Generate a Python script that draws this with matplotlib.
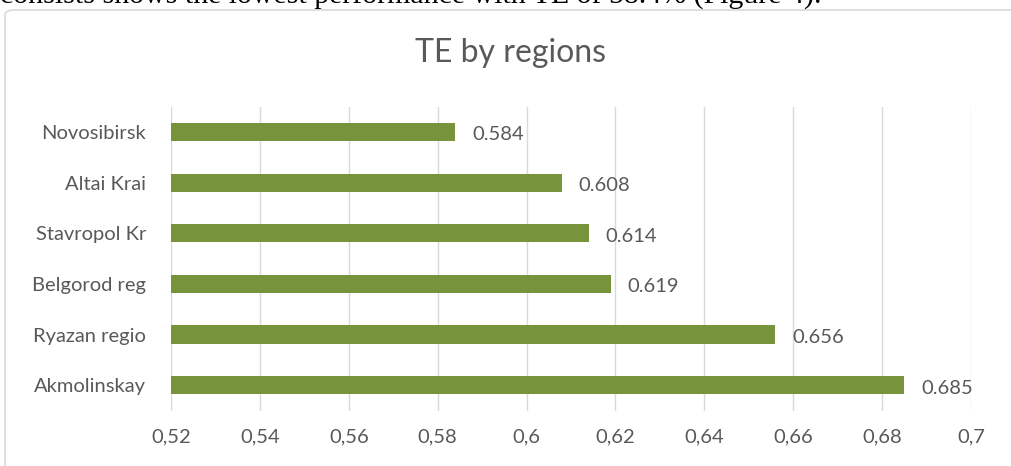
import matplotlib.pyplot as plt
from matplotlib.patches import FancyBboxPatch
from matplotlib.ticker import FuncFormatter

regions = ["Akmolinskay", "Ryazan regio", "Belgorod reg", "Stavropol Kr", "Altai Krai", "Novosibirsk"]
te = [0.685, 0.656, 0.619, 0.614, 0.608, 0.584]
ticks = [0.52, 0.54, 0.56, 0.58, 0.6, 0.62, 0.64, 0.66, 0.68, 0.7]

plt.rcParams['font.family'] = ['Lato', 'DejaVu Sans']
gray = "#595959"

fig = plt.figure(figsize=(10.11, 4.66), dpi=100)

# cut off sentence of the paper above the chart
fig.text(0.0, 1 - 4 / 466, "consists shows the lowest performance with TE of 58.4% (Figure 4).",
         family="Liberation Serif", fontsize=21.5, color="black", va="baseline")

# chart frame
frame = FancyBboxPatch((5 / 1011, -0.1), 1.1, 1 - 10 / 466 + 0.1,
                       boxstyle="round,pad=0,rounding_size=0.01",
                       transform=fig.transFigure, fill=False, edgecolor="#d9d9d9", linewidth=1.2)
fig.patches.append(frame)

ax = fig.add_axes([171 / 1011, 0.119, 800 / 1011, 0.652])
y = range(len(regions))
ax.barh(y, te, height=0.36, color="#77933c", zorder=3)
for yi, v in zip(y, te):
    ax.annotate(f"{v:.3f}", (v, yi), xytext=(12, -2), textcoords="offset points",
                va="center", ha="left", fontsize=14.5, color=gray)

ax.set_xlim(0.52, 0.7)
ax.set_ylim(-0.5, len(regions) - 0.5)
ax.set_xticks(ticks)
ax.xaxis.set_major_formatter(FuncFormatter(lambda v, p: f"{v:g}".replace(".", ",")))
ax.set_yticks(list(y))
ax.set_yticklabels(regions)
ax.tick_params(axis="both", length=0, labelsize=14.5, labelcolor=gray)
ax.tick_params(axis="x", pad=13)
ax.tick_params(axis="y", pad=18)
ax.grid(axis="x", color="#d9d9d9", linewidth=1, zorder=0)
for s in ax.spines.values():
    s.set_visible(False)

fig.text(0.505, 1 - 53 / 466, "TE by regions", ha="center", va="center", fontsize=23, color=gray)

fig.savefig("out.png", dpi=100)
